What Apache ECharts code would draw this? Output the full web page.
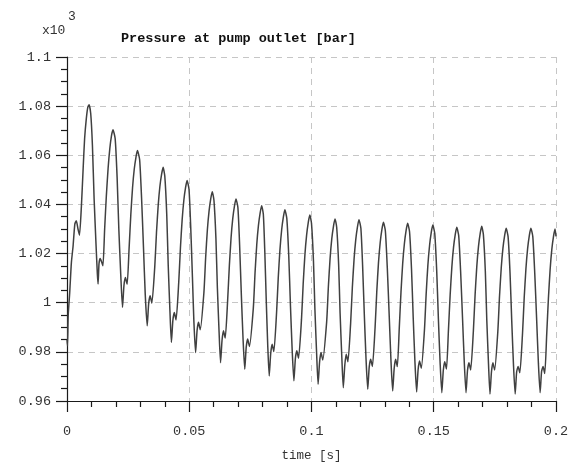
<!DOCTYPE html>
<html>
<head>
<meta charset="utf-8">
<script src="https://cdn.jsdelivr.net/npm/echarts@6/dist/echarts.min.js"></script>
<style>
html,body{margin:0;padding:0;background:#fff;}
#chart{width:576px;height:469px;}
</style>
</head>
<body>
<div id="chart"></div>
<script>
// time [s]
var timeS = [
0, 0.0002, 0.0005, 0.0011, 0.0018, 0.0025, 0.0032, 0.0038, 0.0045, 0.0051, 0.0059, 0.0066, 0.0072, 0.0079, 0.0085, 0.0090,
0.0097, 0.0104, 0.0111, 0.0119, 0.0124, 0.0127, 0.0131, 0.0136, 0.0142, 0.0147, 0.0154, 0.0161, 0.0168, 0.0175, 0.0182, 0.0188,
0.0197, 0.0205, 0.0212, 0.0220, 0.0227, 0.0233, 0.0239, 0.0246, 0.0254, 0.0261, 0.0268, 0.0275, 0.0282, 0.0288,
0.0297, 0.0305, 0.0313, 0.0320, 0.0328, 0.0334, 0.0340, 0.0347, 0.0359, 0.0366, 0.0373, 0.0380, 0.0387, 0.0393,
0.0400, 0.0408, 0.0414, 0.0421, 0.0427, 0.0433, 0.0439, 0.0446, 0.0457, 0.0464, 0.0471, 0.0478, 0.0485, 0.0491,
0.0499, 0.0506, 0.0513, 0.0519, 0.0526, 0.0532, 0.0538, 0.0545, 0.0560, 0.0567, 0.0574, 0.0581, 0.0588, 0.0594,
0.0601, 0.0609, 0.0615, 0.0622, 0.0628, 0.0634, 0.0640, 0.0647, 0.0657, 0.0664, 0.0671, 0.0678, 0.0685, 0.0691,
0.0699, 0.0706, 0.0713, 0.0720, 0.0727, 0.0733, 0.0739, 0.0746, 0.0762, 0.0769, 0.0776, 0.0783, 0.0790, 0.0796,
0.0803, 0.0809, 0.0815, 0.0821, 0.0827, 0.0833, 0.0839, 0.0846, 0.0857, 0.0864, 0.0871, 0.0878, 0.0885, 0.0891,
0.0899, 0.0907, 0.0914, 0.0921, 0.0928, 0.0934, 0.0940, 0.0947, 0.0959, 0.0966, 0.0973, 0.0980, 0.0987, 0.0993,
0.1000, 0.1008, 0.1014, 0.1021, 0.1027, 0.1033, 0.1039, 0.1046, 0.1062, 0.1069, 0.1076, 0.1083, 0.1090, 0.1096,
0.1103, 0.1111, 0.1117, 0.1124, 0.1130, 0.1136, 0.1142, 0.1149, 0.1160, 0.1167, 0.1174, 0.1181, 0.1188, 0.1194,
0.1202, 0.1209, 0.1216, 0.1223, 0.1230, 0.1236, 0.1242, 0.1249, 0.1260, 0.1267, 0.1274, 0.1281, 0.1288, 0.1294,
0.1302, 0.1310, 0.1318, 0.1325, 0.1332, 0.1338, 0.1344, 0.1351, 0.1359, 0.1366, 0.1373, 0.1380, 0.1387, 0.1393,
0.1401, 0.1409, 0.1416, 0.1423, 0.1430, 0.1436, 0.1442, 0.1449, 0.1462, 0.1469, 0.1476, 0.1483, 0.1490, 0.1496,
0.1504, 0.1512, 0.1519, 0.1526, 0.1533, 0.1539, 0.1545, 0.1552, 0.1560, 0.1567, 0.1574, 0.1581, 0.1588, 0.1594,
0.1602, 0.1610, 0.1618, 0.1625, 0.1632, 0.1638, 0.1644, 0.1651, 0.1662, 0.1669, 0.1676, 0.1683, 0.1690, 0.1696,
0.1703, 0.1711, 0.1717, 0.1724, 0.1730, 0.1736, 0.1742, 0.1749, 0.1762, 0.1769, 0.1776, 0.1783, 0.1790, 0.1796,
0.1804, 0.1812, 0.1819, 0.1826, 0.1833, 0.1839, 0.1845, 0.1852, 0.1863, 0.1870, 0.1877, 0.1884, 0.1891, 0.1897,
0.1905, 0.1913, 0.1921, 0.1928, 0.1935, 0.1941, 0.1947, 0.1954, 0.1962, 0.1969, 0.1976, 0.1983, 0.1990, 0.1996, 0.2000
];

// pressure at pump outlet [bar x10^3]
var pressureK = [
0.9850, 0.9825, 0.9950, 1.0040, 1.0164, 1.0232, 1.0320, 1.0334, 1.0300, 1.0275, 1.0395, 1.0545, 1.0667, 1.0749, 1.0795, 1.0806,
1.0770, 1.0640, 1.0420, 1.0230, 1.0120, 1.0076, 1.0160, 1.0180, 1.0165, 1.0150, 1.0300, 1.0436, 1.0545, 1.0626, 1.0680, 1.0704,
1.0668, 1.0509, 1.0299, 1.0111, 0.9981, 1.0071, 1.0103, 1.0075, 1.0222, 1.0358, 1.0467, 1.0543, 1.0592, 1.0619,
1.0583, 1.0426, 1.0220, 1.0034, 0.9906, 0.9996, 1.0028, 0.9998, 1.0147, 1.0286, 1.0396, 1.0474, 1.0523, 1.0551,
1.0515, 1.0358, 1.0152, 0.9966, 0.9838, 0.9928, 0.9960, 0.9930, 1.0083, 1.0225, 1.0338, 1.0418, 1.0469, 1.0497,
1.0462, 1.0308, 1.0105, 0.9923, 0.9797, 0.9887, 0.9920, 0.9890, 1.0042, 1.0182, 1.0295, 1.0373, 1.0424, 1.0452,
1.0417, 1.0264, 1.0062, 0.9881, 0.9756, 0.9846, 0.9886, 0.9856, 1.0009, 1.0150, 1.0264, 1.0343, 1.0394, 1.0422,
1.0387, 1.0235, 1.0034, 0.9854, 0.9729, 0.9819, 0.9852, 0.9822, 0.9977, 1.0120, 1.0235, 1.0315, 1.0366, 1.0395,
1.0360, 1.0208, 1.0007, 0.9827, 0.9702, 0.9792, 0.9831, 0.9801, 0.9957, 1.0101, 1.0216, 1.0297, 1.0349, 1.0378,
1.0343, 1.0190, 0.9986, 0.9807, 0.9682, 0.9772, 0.9804, 0.9774, 0.9931, 1.0077, 1.0194, 1.0275, 1.0328, 1.0357,
1.0323, 1.0171, 0.9971, 0.9792, 0.9668, 0.9758, 0.9797, 0.9767, 0.9922, 1.0065, 1.0180, 1.0261, 1.0312, 1.0341,
1.0307, 1.0156, 0.9956, 0.9778, 0.9654, 0.9744, 0.9790, 0.9760, 0.9916, 1.0061, 1.0176, 1.0257, 1.0309, 1.0338,
1.0303, 1.0152, 0.9952, 0.9772, 0.9648, 0.9738, 0.9770, 0.9740, 0.9898, 1.0045, 1.0163, 1.0245, 1.0298, 1.0327,
1.0293, 1.0142, 0.9943, 0.9765, 0.9641, 0.9731, 0.9770, 0.9740, 0.9897, 1.0043, 1.0160, 1.0241, 1.0294, 1.0323,
1.0289, 1.0138, 0.9939, 0.9761, 0.9637, 0.9727, 0.9763, 0.9733, 0.9890, 1.0036, 1.0153, 1.0234, 1.0287, 1.0316,
1.0282, 1.0132, 0.9934, 0.9757, 0.9634, 0.9724, 0.9760, 0.9730, 0.9886, 1.0030, 1.0145, 1.0226, 1.0278, 1.0307,
1.0273, 1.0125, 0.9930, 0.9755, 0.9634, 0.9724, 0.9756, 0.9726, 0.9884, 1.0030, 1.0147, 1.0229, 1.0282, 1.0311,
1.0277, 1.0127, 0.9928, 0.9750, 0.9628, 0.9718, 0.9756, 0.9726, 0.9882, 1.0026, 1.0141, 1.0222, 1.0274, 1.0303,
1.0269, 1.0121, 0.9925, 0.9750, 0.9628, 0.9718, 0.9740, 0.9715, 0.9874, 1.0021, 1.0138, 1.0221, 1.0274, 1.0303,
1.0270, 1.0122, 0.9928, 0.9754, 0.9634, 0.9720, 0.9740, 0.9712, 0.9871, 1.0018, 1.0135, 1.0218, 1.0271, 1.0300, 1.0270
];

var xTickLabels = ['0', '0.05', '0.1', '0.15', '0.2'];
var yTickLabels = ['0.96', '0.98', '1', '1.02', '1.04', '1.06', '1.08', '1.1'];
var xMin = 0, xMax = 0.2, xStep = 0.05;
var yMin = 0.96, yMax = 1.1, yStep = 0.02;

var titleText = 'Pressure at pump outlet [bar]';
var xName = 'time [s]';

var FONT = 'Liberation Mono';
var chart = echarts.init(document.getElementById('chart'), null, {renderer: 'canvas'});

var seriesData = timeS.map(function (t, i) { return [t, pressureK[i]]; });

var axisColor = '#1a1a1a';
var gridColor = '#c6c6c6';

chart.setOption({
  animation: false,
  backgroundColor: '#ffffff',
  title: {
    text: titleText,
    left: 116,
    top: 27,
    textStyle: {fontFamily: FONT, fontWeight: 'bold', fontSize: 13.5, color: '#111'}
  },
  graphic: [
    {type: 'text', left: 42, top: 24, style: {text: 'x10', font: '13px "Liberation Mono"', fill: '#333'}},
    {type: 'text', left: 68, top: 10, style: {text: '3', font: '13px "Liberation Mono"', fill: '#333'}}
  ],
  grid: {left: 67, right: 20, top: 57, bottom: 68, containLabel: false},
  xAxis: {
    type: 'value',
    min: xMin, max: xMax, interval: xStep,
    name: xName,
    nameLocation: 'middle',
    nameGap: 48,
    nameTextStyle: {fontFamily: FONT, fontSize: 12.5, color: '#333'},
    axisLine: {show: true, onZero: false, lineStyle: {color: axisColor, width: 1.2}},
    axisTick: {show: true, length: 11, lineStyle: {color: axisColor, width: 1.2}},
    minorTick: {show: true, splitNumber: 5, length: 6, lineStyle: {color: axisColor, width: 1.2}},
    splitLine: {show: true, lineStyle: {color: gridColor, type: [6, 5], width: 1}},
    axisLabel: {
      margin: 23, fontFamily: FONT, fontSize: 13.5, color: '#333',
      formatter: function (v) { return xTickLabels[Math.round((v - xMin) / xStep)]; }
    }
  },
  yAxis: {
    type: 'value',
    min: yMin, max: yMax, interval: yStep,
    axisLine: {show: true, onZero: false, lineStyle: {color: axisColor, width: 1.2}},
    axisTick: {show: true, length: 11, lineStyle: {color: axisColor, width: 1.2}},
    minorTick: {show: true, splitNumber: 4, length: 6, lineStyle: {color: axisColor, width: 1.2}},
    splitLine: {show: true, lineStyle: {color: gridColor, type: [6, 5], width: 1}},
    axisLabel: {
      margin: 16, fontFamily: FONT, fontSize: 13.5, color: '#333',
      formatter: function (v) { return yTickLabels[Math.round((v - yMin) / yStep)]; }
    }
  },
  series: [{
    type: 'line',
    data: seriesData,
    showSymbol: false,
    smooth: 0.2,
    lineStyle: {color: '#404040', width: 1.5}
  }]
});
</script>
</body>
</html>
